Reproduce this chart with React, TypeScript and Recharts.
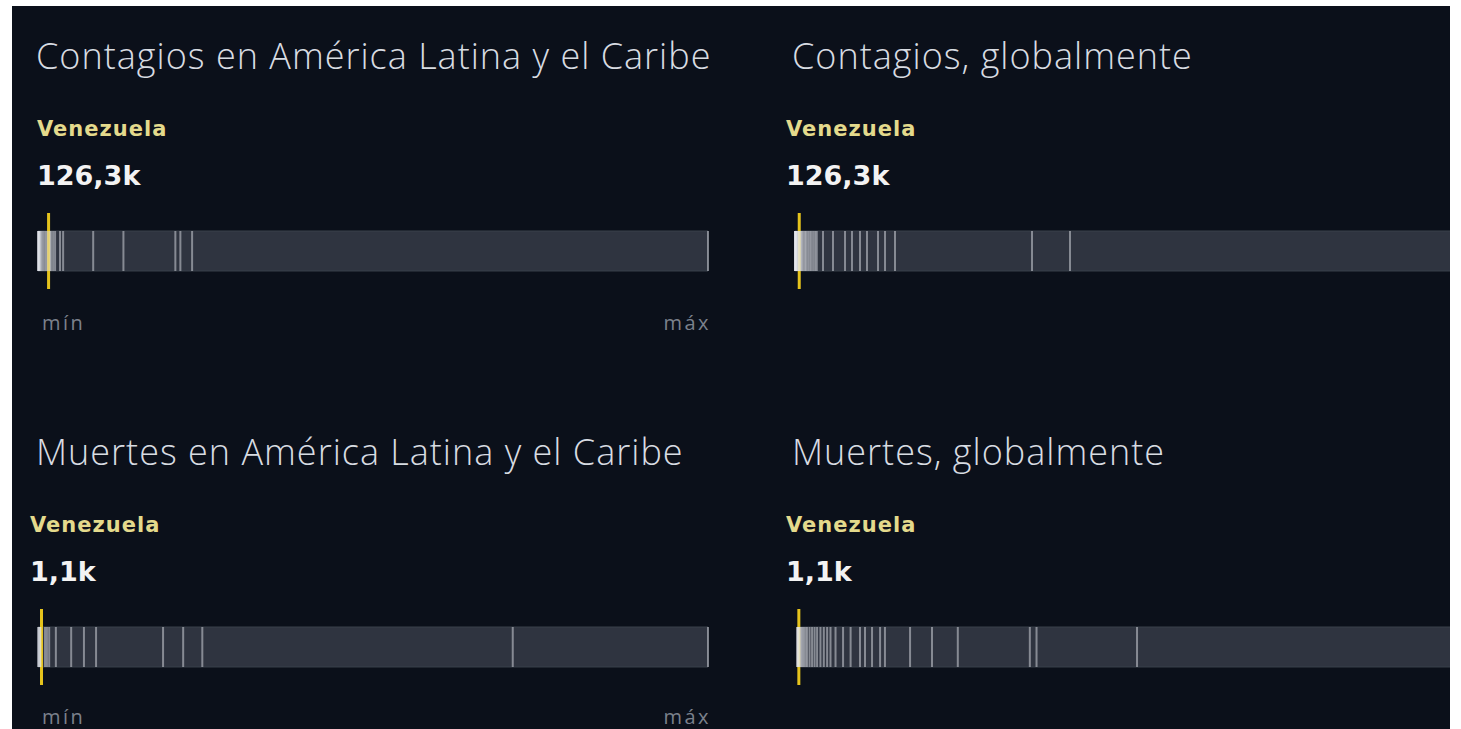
import React from 'react';
import { ReferenceArea, ReferenceLine, Scatter, ScatterChart, XAxis, YAxis } from 'recharts';

// valores en miles (k)
const LATAM_CASES_K = [
  1, 3, 6, 9, 14, 20, 28, 40, 55, 75, 95, 115, 140, 155, 180, 204, 263, 300, 659, 1020, 1640, 1700, 1840, 8000,
];
const GLOBAL_CASES_K = [
  1, 3, 5, 8, 12, 18, 25, 35, 45, 60, 80, 100, 120, 150, 180, 210, 250, 290, 330, 380, 430, 480, 540, 600, 650,
  836, 1134, 1493, 1701, 1940, 2149, 2478, 2687, 2985, 7075, 8209, 20000,
];
const LATAM_DEATHS_K = [
  0.05, 0.2, 0.4, 0.6, 0.8, 2.2, 2.8, 3.5, 5.6, 10.4, 14.4, 18.2, 39.2, 45.5, 51.5, 148.8, 210,
];
const GLOBAL_DEATHS_K = [
  0.1, 0.3, 0.5, 0.8, 1.2, 1.8, 2.5, 3.2, 4, 5, 6, 7.5, 9, 10.5, 12, 14, 16, 18, 20,
  23, 27.5, 32, 37.6, 40.6, 44.8, 49.6, 52.5, 67.5, 80.6, 96, 139, 143, 203, 400,
];

const VENEZUELA_CASES_K = 126.3;
const VENEZUELA_DEATHS_K = 1.1;

const TITLES = [
  'Contagios en América Latina y el Caribe',
  'Contagios, globalmente',
  'Muertes en América Latina y el Caribe',
  'Muertes, globalmente',
];
const COUNTRY = 'Venezuela';
const VALUE_LABELS = ['126,3k', '1,1k'];
const RANGE_LABELS = ['mín', 'máx'];

const BG = '#0b101a';
const TRACK = '#2f3440';
const YELLOW = '#e5c31c';
const FONT = '"Open Sans", "Noto Sans", sans-serif';
const BOLD_FONT = '"DejaVu Sans", "Open Sans", sans-serif';

function TickMark(props: any) {
  const { cx, cy } = props;
  if (cx == null || cy == null) return null;
  return <rect x={cx - 1} y={cy - 20} width={2} height={40} fill="#e6e9ee" fillOpacity={0.48} />;
}

interface StripProps {
  values: number[];
  max: number;
  highlight: number;
  left: number;
  top: number;
  plotWidth: number;
}

function Strip({ values, max, highlight, left, top, plotWidth }: StripProps) {
  const data = values.map((v) => ({ x: v, y: 0.5 }));
  return (
    <div style={{ position: 'absolute', left: left - 4, top }}>
      <ScatterChart width={plotWidth + 8} height={76} margin={{ top: 0, right: 4, bottom: 0, left: 4 }}>
        <XAxis type="number" dataKey="x" domain={[0, max]} hide />
        <YAxis type="number" dataKey="y" domain={[0, 1]} hide width={0} />
        <ReferenceArea
          x1={0}
          x2={max}
          y1={0.237}
          y2={0.763}
          fill={TRACK}
          fillOpacity={1}
          stroke="#3a404b"
          strokeWidth={1}
        />
        <Scatter data={data} shape={TickMark} isAnimationActive={false} />
        <ReferenceLine x={highlight} stroke={YELLOW} strokeWidth={3} />
      </ScatterChart>
    </div>
  );
}

function Text({
  x,
  y,
  size,
  weight,
  color,
  children,
  align = 'left',
  font = FONT,
  spacing = 0,
}: {
  x: number;
  y: number;
  size: number;
  weight: number;
  color: string;
  children: React.ReactNode;
  align?: 'left' | 'right';
  font?: string;
  spacing?: number;
}) {
  const style: React.CSSProperties = {
    position: 'absolute',
    top: y,
    fontFamily: font,
    fontSize: size,
    fontWeight: weight,
    letterSpacing: spacing,
    color,
    lineHeight: 1,
    whiteSpace: 'nowrap',
  };
  if (align === 'right') style.right = 1461 - x;
  else style.left = x;
  return <div style={style}>{children}</div>;
}

function Block({
  x,
  y,
  labelX,
  title,
  value,
}: {
  x: number;
  y: number;
  labelX: number;
  title: string;
  value: string;
}) {
  return (
    <>
      <Text x={x} y={y - 1} size={36} weight={300} color="#d8dce2" spacing={1}>
        {title}
      </Text>
      <Text x={labelX} y={y + 80} size={21} weight={700} color="#e4da8c" font={BOLD_FONT} spacing={1}>
        {COUNTRY}
      </Text>
      <Text x={labelX} y={y + 123} size={27} weight={700} color="#f3f3f3" font={BOLD_FONT}>
        {value}
      </Text>
    </>
  );
}

export default function App() {
  return (
    <div style={{ position: 'fixed', left: 0, top: 0, width: 1461, height: 729, background: '#fff' }}>
      <div
        style={{
          position: 'absolute',
          left: 12,
          top: 6,
          width: 1438,
          height: 723,
          background: BG,
          overflow: 'hidden',
        }}
      >
        <div style={{ position: 'absolute', left: -12, top: -6, width: 1461, height: 729 }}>
          <Block x={36} y={39} labelX={37} title={TITLES[0]} value={VALUE_LABELS[0]} />
          <Block x={792} y={39} labelX={786} title={TITLES[1]} value={VALUE_LABELS[0]} />
          <Block x={36} y={435} labelX={30} title={TITLES[2]} value={VALUE_LABELS[1]} />
          <Block x={792} y={435} labelX={786} title={TITLES[3]} value={VALUE_LABELS[1]} />

          <Strip values={LATAM_CASES_K} max={8000} highlight={VENEZUELA_CASES_K} left={38} top={213} plotWidth={670} />
          <Strip values={GLOBAL_CASES_K} max={20000} highlight={VENEZUELA_CASES_K} left={795} top={213} plotWidth={670} />
          <Strip values={LATAM_DEATHS_K} max={210} highlight={VENEZUELA_DEATHS_K} left={38} top={609} plotWidth={670} />
          <Strip values={GLOBAL_DEATHS_K} max={400} highlight={VENEZUELA_DEATHS_K} left={797} top={609} plotWidth={670} />

          <Text x={42} y={313} size={20} weight={400} color="#7b818c" spacing={2.5}>
            {RANGE_LABELS[0]}
          </Text>
          <Text x={711} y={313} size={20} weight={400} color="#7b818c" align="right" spacing={2.5}>
            {RANGE_LABELS[1]}
          </Text>
          <Text x={42} y={707} size={20} weight={400} color="#7b818c" spacing={2.5}>
            {RANGE_LABELS[0]}
          </Text>
          <Text x={711} y={707} size={20} weight={400} color="#7b818c" align="right" spacing={2.5}>
            {RANGE_LABELS[1]}
          </Text>
        </div>
      </div>
    </div>
  );
}
